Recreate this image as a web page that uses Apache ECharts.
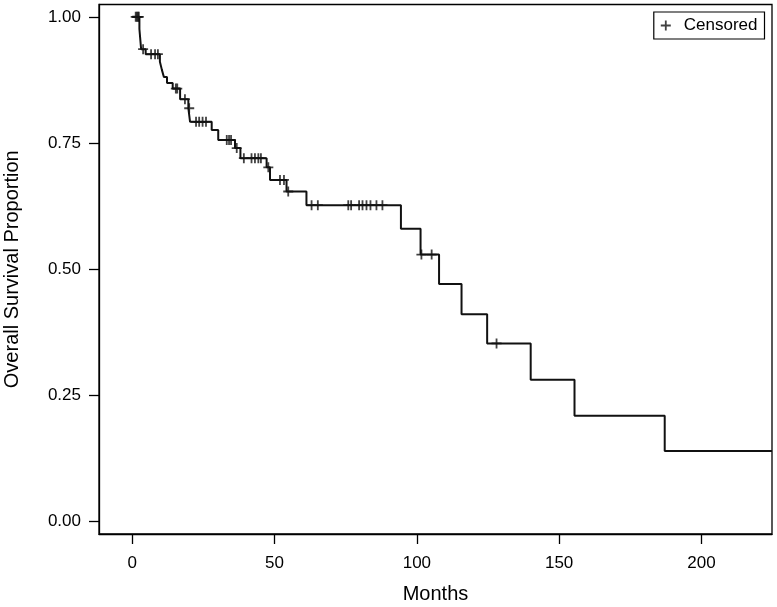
<!DOCTYPE html>
<html>
<head>
<meta charset="utf-8">
<script src="https://cdn.jsdelivr.net/npm/echarts@6/dist/echarts.min.js"></script>
<style>html,body{margin:0;padding:0;background:#fff}#c{width:777px;height:607px}</style>
</head>
<body>
<div id="c"></div>
<script>
// Kaplan-Meier step curve: event times (months) and survival after each event
const stepTimes = [0, 2.5, 3.1, 4.7, 9.7, 10.4, 11.1, 12.2, 14.2, 16.8, 19.7, 20.3, 27.9, 30.2, 36.1, 38.0, 47.2, 48.4, 54.2, 61.2, 94.4, 101.3, 107.8, 115.7, 124.7, 140.0, 155.4, 187.1, 224.8];
const stepSurv  = [1.0, 0.976, 0.936, 0.926, 0.911, 0.895, 0.881, 0.869, 0.858, 0.837, 0.819, 0.792, 0.776, 0.756, 0.740, 0.720, 0.702, 0.677, 0.654, 0.627, 0.580, 0.529, 0.471, 0.411, 0.353, 0.281, 0.210, 0.140, 0.140];
// Censored observations
const censorTimes = [1.2, 1.6, 2.0, 2.3, 3.8, 6.6, 8.0, 9.0, 15.3, 15.8, 18.5, 20.0, 22.4, 23.5, 24.7, 25.9, 33.2, 34.0, 34.7, 36.7, 39.2, 41.9, 43.1, 44.3, 45.2, 47.8, 51.9, 53.3, 54.8, 63.0, 65.2, 75.9, 76.9, 79.7, 80.9, 82.3, 83.7, 85.8, 87.9, 101.6, 105.2, 128.0];
const censorSurv  = [1.0, 1.0, 1.0, 1.0, 0.936, 0.926, 0.926, 0.926, 0.858, 0.858, 0.837, 0.819, 0.792, 0.792, 0.792, 0.792, 0.756, 0.756, 0.756, 0.740, 0.720, 0.720, 0.720, 0.720, 0.720, 0.702, 0.677, 0.677, 0.654, 0.627, 0.627, 0.627, 0.627, 0.627, 0.627, 0.627, 0.627, 0.627, 0.627, 0.529, 0.529, 0.353];
// Axis ticks
const xTicks = [0, 50, 100, 150, 200];
const yTicks = [0, 0.25, 0.5, 0.75, 1.0];

const plusPath = 'path://M4.1,0H5.9V4.1H10V5.9H5.9V10H4.1V5.9H0V4.1H4.1Z';
const FONT = '"Liberation Sans", Arial, sans-serif';

const chart = echarts.init(document.getElementById('c'), null, {renderer: 'canvas'});
chart.setOption({
  backgroundColor: '#fff',
  animation: false,
  grid: {left: 99, right: 5, top: 4.5, bottom: 73, show: true, borderColor: '#000', borderWidth: 1.3,
    containLabel: false, outerBoundsMode: 'none'},
  legend: {
    right: 12.5, top: 12,
    padding: [5, 7, 5, 7],
    borderColor: '#000', borderWidth: 1.2,
    itemWidth: 10, itemHeight: 10,
    data: [{name: 'Censored', icon: plusPath}],
    textStyle: {fontFamily: FONT, fontSize: 17, color: '#000', padding: [0, 0, 0, 8]}
  },
  xAxis: {
    type: 'value', min: -11.7, max: 224.8,
    name: 'Months', nameLocation: 'middle', nameGap: 50,
    nameTextStyle: {fontFamily: FONT, fontSize: 20, color: '#000'},
    axisLine: {show: true, onZero: false, lineStyle: {color: '#000', width: 1.3}},
    axisTick: {show: true, length: 10, customValues: xTicks, lineStyle: {color: '#000', width: 1.3}},
    axisLabel: {customValues: xTicks, margin: 21, fontFamily: FONT, fontSize: 17, color: '#000'},
    splitLine: {show: false}
  },
  yAxis: {
    type: 'value', min: -0.0245, max: 1.0245,
    name: 'Overall Survival Proportion', nameLocation: 'middle', nameGap: 77,
    nameTextStyle: {fontFamily: FONT, fontSize: 20, color: '#000'},
    axisLine: {show: true, onZero: false, lineStyle: {color: '#000', width: 1.3}},
    axisTick: {show: true, length: 10, customValues: yTicks, lineStyle: {color: '#000', width: 1.3}},
    axisLabel: {customValues: yTicks, margin: 18, fontFamily: FONT, fontSize: 17, color: '#000',
      formatter: v => v.toFixed(2)},
    splitLine: {show: false}
  },
  series: [
    {
      name: 'Survival', type: 'line', step: 'end', showSymbol: false, symbol: 'none',
      data: stepTimes.map((t, i) => [t, stepSurv[i]]),
      lineStyle: {color: '#111', width: 2}, silent: true, z: 2
    },
    {
      name: 'Censored', type: 'scatter', symbol: plusPath, symbolSize: 10,
      data: censorTimes.map((t, i) => [t, censorSurv[i]]),
      itemStyle: {color: '#111'}, z: 3
    }
  ]
});
</script>
</body>
</html>
